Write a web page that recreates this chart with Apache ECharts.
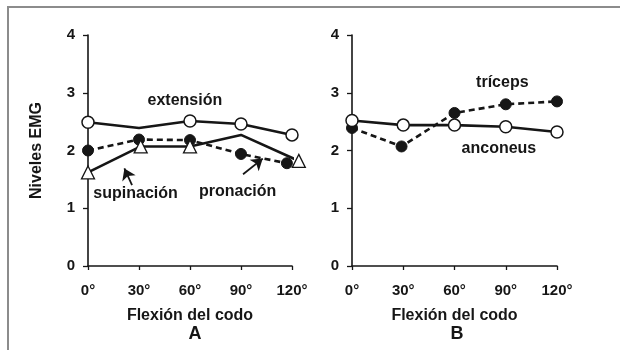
<!DOCTYPE html>
<html>
<head>
<meta charset="utf-8">
<script src="https://cdn.jsdelivr.net/npm/echarts@6/dist/echarts.min.js"></script>
<style>
  html, body { margin: 0; padding: 0; background: #fff; }
  #chart { width: 620px; height: 350px; }
</style>
</head>
<body>
<div id="chart"></div>
<script>
// Elbow flexion angle (degrees)
const angleTicks = [0, 30, 60, 90, 120];
const yTicks = [0, 1, 2, 3, 4];

// Panel A: EMG level during extension, pronation and supination
const extensionX = [0, 30, 60, 90, 120];
const extensionY = [2.49, 2.39, 2.51, 2.46, 2.27];
const extensionMarked = [true, false, true, true, true];

const pronacionX = [0, 30, 60, 90, 117];
const pronacionY = [2.0, 2.19, 2.18, 1.94, 1.78];

const supinacionX = [0, 31, 60, 90, 124];
const supinacionY = [1.62, 2.07, 2.07, 2.27, 1.82];
const supinacionMarked = [true, true, true, false, true];

// Panel B: triceps vs anconeus
const tricepsX = [0, 29, 60, 90, 120];
const tricepsY = [2.39, 2.07, 2.65, 2.80, 2.85];

const anconeusX = [0, 30, 60, 90, 120];
const anconeusY = [2.52, 2.44, 2.44, 2.41, 2.32];

// Curve labels (data coordinates)
const labelsA = [
  { text: 'extensión', at: [57, 2.86] },
  { text: 'supinación', at: [28, 1.26] },
  { text: 'pronación', at: [88, 1.28] }
];
const labelsB = [
  { text: 'tríceps', at: [88, 3.17] },
  { text: 'anconeus', at: [86, 2.03] }
];
// Pointer arrows (tail -> head, data coordinates)
const arrowsA = [
  [[25.9, 1.40], [21.4, 1.69]],
  [[91.2, 1.59], [102.8, 1.86]]
];

const FONT = 'Liberation Sans, Arial, sans-serif';
const INK = '#161616';

function pairs(xs, ys, marked) {
  return xs.map((x, i) => {
    const item = { value: [x, ys[i]] };
    if (marked && !marked[i]) item.symbol = 'none';
    return item;
  });
}

function labelPoints(list) {
  return {
    symbol: 'circle',
    symbolSize: 1,
    itemStyle: { color: 'rgba(0,0,0,0)' },
    label: {
      show: true, position: 'inside', color: INK,
      fontFamily: FONT, fontWeight: 'bold', fontSize: 16,
      formatter: p => p.name
    },
    data: list.map(l => ({ name: l.text, coord: l.at }))
  };
}

function xAxis(gridIndex) {
  return {
    type: 'value', gridIndex, min: 0, max: 120, interval: 30,
    name: 'Flexión del codo', nameLocation: 'middle', nameGap: 42,
    nameTextStyle: { fontFamily: FONT, fontWeight: 'bold', fontSize: 16, color: INK },
    axisLine: { lineStyle: { color: INK, width: 1.6 } },
    axisTick: { show: true, length: 4, lineStyle: { color: INK, width: 1.3 } },
    axisLabel: {
      margin: 17, fontFamily: FONT, fontWeight: 'bold', fontSize: 15, color: INK,
      formatter: v => angleTicks.includes(v) ? v + '°' : ''
    },
    splitLine: { show: false }
  };
}

function yAxis(gridIndex, name) {
  return {
    type: 'value', gridIndex, min: yTicks[0], max: yTicks[yTicks.length - 1], interval: 1,
    name: name, nameLocation: 'middle', nameGap: 43,
    nameTextStyle: { fontFamily: FONT, fontWeight: 'bold', fontSize: 16, color: INK },
    axisLine: { show: true, lineStyle: { color: INK, width: 1.6 } },
    axisTick: { show: true, length: 5, lineStyle: { color: INK, width: 1.3 } },
    axisLabel: { margin: 13, fontFamily: FONT, fontWeight: 'bold', fontSize: 15, color: INK },
    splitLine: { show: false }
  };
}

const openCircle = { symbol: 'circle', symbolSize: 12, itemStyle: { color: '#fff', borderColor: INK, borderWidth: 1.5 } };
const filledCircle = { symbol: 'circle', symbolSize: 11, itemStyle: { color: INK, borderColor: INK, borderWidth: 1 } };
const openTriangle = { symbol: 'triangle', symbolSize: 13, itemStyle: { color: '#fff', borderColor: INK, borderWidth: 1.3 } };

const solid = { color: INK, width: 2.6, type: 'solid' };
const dashed = { color: INK, width: 2.6, type: [6, 4] };

const chart = echarts.init(document.getElementById('chart'), null, { renderer: 'canvas' });
chart.setOption({
  animation: false,
  backgroundColor: '#fff',
  grid: [
    { left: 88, top: 35, width: 204, height: 231 },
    { left: 352, top: 35, width: 205, height: 231 }
  ],
  xAxis: [xAxis(0), xAxis(1)],
  yAxis: [yAxis(0, 'Niveles EMG'), yAxis(1, '')],
  series: [
    Object.assign({
      name: 'pronación', type: 'line', xAxisIndex: 0, yAxisIndex: 0, z: 2, clip: false,
      lineStyle: dashed, data: pairs(pronacionX, pronacionY),
      markLine: {
        silent: true, symbol: ['none', 'arrow'], symbolSize: 11,
        lineStyle: { color: INK, width: 1.8, type: 'solid' },
        itemStyle: { color: INK },
        label: { show: false },
        data: arrowsA.map(a => [{ coord: a[0] }, { coord: a[1] }])
      }
    }, filledCircle),
    Object.assign({
      name: 'supinación', type: 'line', xAxisIndex: 0, yAxisIndex: 0, z: 3, clip: false,
      lineStyle: solid, data: pairs(supinacionX, supinacionY, supinacionMarked)
    }, openTriangle),
    Object.assign({
      name: 'extensión', type: 'line', xAxisIndex: 0, yAxisIndex: 0, z: 4, clip: false,
      lineStyle: solid, data: pairs(extensionX, extensionY, extensionMarked),
      markPoint: labelPoints(labelsA)
    }, openCircle),
    Object.assign({
      name: 'tríceps', type: 'line', xAxisIndex: 1, yAxisIndex: 1, z: 2, clip: false,
      lineStyle: dashed, data: pairs(tricepsX, tricepsY)
    }, filledCircle),
    Object.assign({
      name: 'anconeus', type: 'line', xAxisIndex: 1, yAxisIndex: 1, z: 3, clip: false,
      lineStyle: solid, data: pairs(anconeusX, anconeusY),
      markPoint: labelPoints(labelsB)
    }, openCircle)
  ],
  graphic: [
    { type: 'line', shape: { x1: 8, y1: 7, x2: 620, y2: 7 }, style: { stroke: '#8c8c8c', lineWidth: 2 } },
    { type: 'line', shape: { x1: 8, y1: 6, x2: 8, y2: 350 }, style: { stroke: '#8c8c8c', lineWidth: 2 } },
    { type: 'text', x: 195, y: 334, style: { text: 'A', fontFamily: FONT, fontWeight: 'bold', fontSize: 18, fill: INK, align: 'center', verticalAlign: 'middle' } },
    { type: 'text', x: 457, y: 334, style: { text: 'B', fontFamily: FONT, fontWeight: 'bold', fontSize: 18, fill: INK, align: 'center', verticalAlign: 'middle' } }
  ]
});
</script>
</body>
</html>
